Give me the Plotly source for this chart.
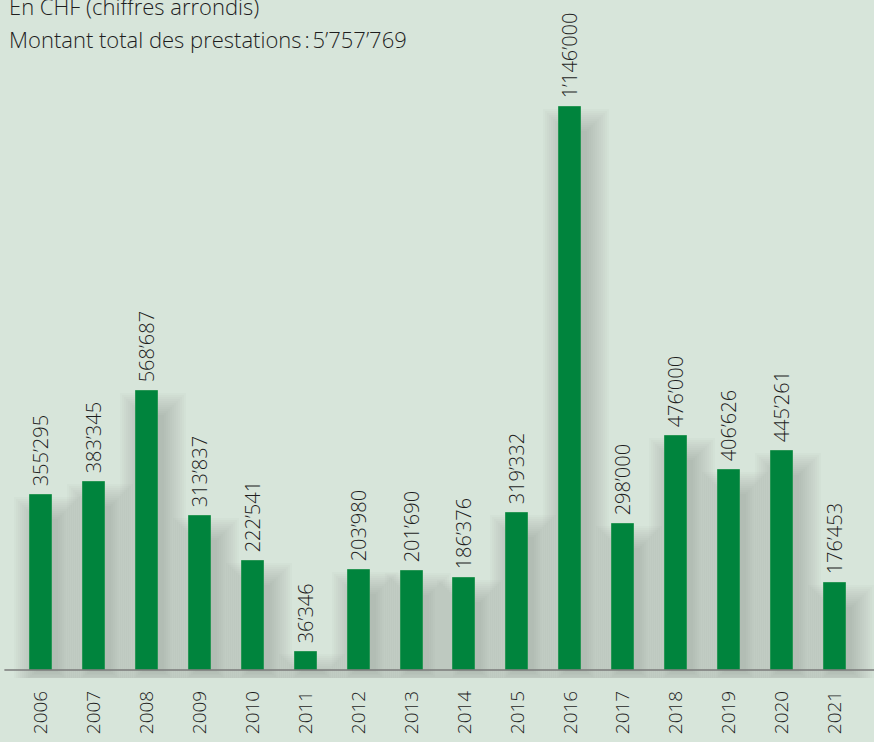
import plotly.graph_objects as go

# Data
years = ["2006", "2007", "2008", "2009", "2010", "2011", "2012", "2013",
         "2014", "2015", "2016", "2017", "2018", "2019", "2020", "2021"]
amounts = [355295, 383345, 568687, 313837, 222541, 36346, 203980, 201690,
           186376, 319332, 1146000, 298000, 476000, 406626, 445261, 176453]
labels = ["355’295", "383’345", "568’687", "313’837", "222’541", "36’346",
          "203’980", "201’690", "186’376", "319’332", "1’146’000", "298’000",
          "476’000", "406’626", "445’261", "176’453"]
subtitle = "En CHF (chiffres arrondis)"
total_text = "Montant total des prestations\u202f:\u202f5’757’769"

BG = "rgb(215,229,218)"
GREEN = "rgb(0,132,61)"
FONT = "Open Sans"
INK = "#1e1e1e"

xs = list(range(len(years)))

# pixel helpers (plot area 874 x 678)
px_x = 16.51 / 874            # category units per pixel
px_y = 1146000 / 563          # value units per pixel
bar_w = 22 * px_x

fig = go.Figure()

# soft drop shadow: stacked translucent rectangles, shifted right/down
for e in range(0, 24, 2):
    w = bar_w + 2 * e * px_x
    fig.add_trace(go.Bar(
        x=xs,
        y=[max(v - (24 - e) * px_y, 0) + (2 + e * 0.8) * px_y for v in amounts],
        base=-(2 + e * 0.8) * px_y,
        width=w,
        offset=-w / 2 + 6 * px_x,
        marker=dict(color="rgba(70,90,75,0.022)", line=dict(width=0)),
        hoverinfo="skip",
        showlegend=False,
        cliponaxis=False,
    ))

fig.add_trace(go.Bar(
    x=xs,
    y=amounts,
    width=bar_w,
    marker=dict(color=GREEN, line=dict(width=1, color="rgb(40,150,85)")),
    text=["\u00a0" + t for t in labels],
    textposition="outside",
    textangle=-90,
    constraintext="none",
    textfont=dict(family=FONT, size=20, color=INK, weight=300),
    cliponaxis=False,
    showlegend=False,
))

# baseline
fig.add_shape(type="line", xref="paper", yref="y", x0=0.005, x1=1, y0=0, y1=0,
              line=dict(color="#7a7a7a", width=1.3))

fig.add_annotation(xref="paper", yref="paper", x=0.008, y=1 - 6 / 678,
                   xanchor="left", yanchor="middle", text=subtitle,
                   showarrow=False,
                   font=dict(family=FONT, size=22, color=INK, weight=300))
fig.add_annotation(xref="paper", yref="paper", x=0.008, y=1 - 39 / 678,
                   xanchor="left", yanchor="middle", text=total_text,
                   showarrow=False,
                   font=dict(family=FONT, size=22, color=INK, weight=300))

fig.update_layout(
    width=874, height=742,
    margin=dict(l=0, r=0, t=0, b=64),
    paper_bgcolor=BG, plot_bgcolor=BG,
    barmode="overlay",
    bargap=0,
    xaxis=dict(range=[-0.775, 15.737], tickmode="array", tickvals=xs,
               ticktext=years, tickangle=-90, showgrid=False, zeroline=False,
               showline=False, ticks="", ticklabelstandoff=8,
               tickfont=dict(family=FONT, size=19, color=INK, weight=300)),
    yaxis=dict(range=[-8 * px_y, 670 * px_y], visible=False, showgrid=False,
               zeroline=False),
)

fig.write_html(
    "out.html",
    config={"displayModeBar": False},
    post_script="document.body.style.margin='0';"
                "document.body.style.overflow='hidden';",
)
